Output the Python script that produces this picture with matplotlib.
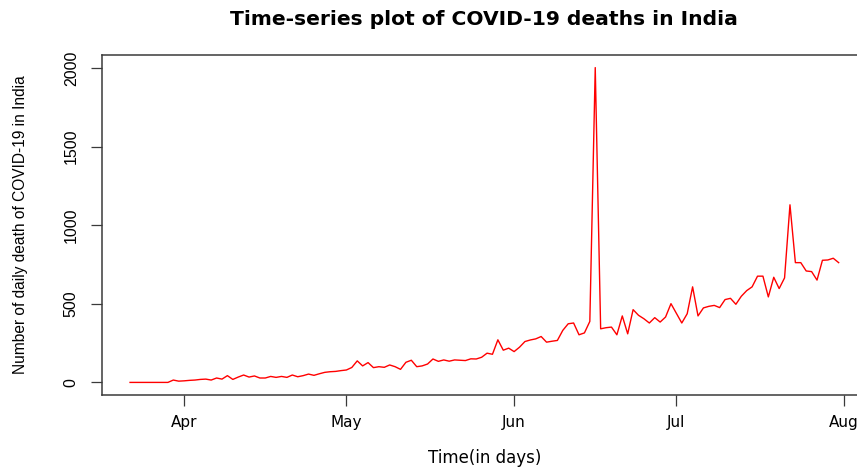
import pandas as pd
import matplotlib
matplotlib.use("Agg")
import matplotlib.pyplot as plt
import matplotlib.dates as mdates

# daily deaths, one value per day starting 22 Mar 2020
start_date = "2020-03-22"
deaths = [
    0, 0, 0, 0, 0, 0, 0, 0, 15, 8,                   # Mar 22 - Mar 31
    10, 13, 15, 19, 21, 15, 28, 21, 43, 19,          # Apr 1 - Apr 10
    34, 47, 34, 41, 28, 28, 38, 32, 38, 32,          # Apr 11 - Apr 20
    47, 36, 43, 53, 45, 55, 64, 68, 70, 75,          # Apr 21 - Apr 30
    79, 95, 137, 105, 126, 94, 100, 96, 111, 100,    # May 1 - May 10
    83, 128, 141, 100, 105, 117, 149, 134, 143, 135, # May 11 - May 20
    143, 141, 139, 150, 149, 160, 186, 179, 271, 205,    # May 21 - May 30
    218,                                                 # May 31
    196, 224, 260, 270, 277, 292, 256, 262, 267, 331,    # Jun 1 - Jun 10
    373, 378, 303, 315, 388, 2003, 341, 348, 352, 303,   # Jun 11 - Jun 20
    423, 309, 463, 427, 405, 378, 412, 384, 416, 501,    # Jun 21 - Jun 30
    440, 378, 437, 608, 423, 474, 484, 490, 476, 527,    # Jul 1 - Jul 10
    535, 497, 548, 584, 608, 676, 676, 544, 669, 597,    # Jul 11 - Jul 20
    665, 1130, 762, 762, 709, 705, 651, 777, 779, 790,   # Jul 21 - Jul 30
    762,                                                 # Jul 31
]
dates = pd.date_range(start_date, periods=len(deaths), freq="D")
y_ticks = [0, 500, 1000, 1500, 2000]

# narrower face for the rotated texts (the original looks squeezed vertically)
narrow = ["Liberation Sans", "DejaVu Sans"]

fig = plt.figure(figsize=(8.57, 4.68), dpi=100)
# plot region runs past the right edge, like the cropped original
ax = fig.add_axes([101.7 / 857, 73 / 468, 765.3 / 857, 340 / 468])

ax.plot(dates, deaths, color="#ff0000", linewidth=1.0)
ax.margins(x=0.04, y=0.04)

ax.xaxis.set_major_locator(mdates.MonthLocator())
ax.xaxis.set_major_formatter(mdates.DateFormatter("%b"))
ax.set_yticks(y_ticks)
ax.set_yticklabels([str(v) for v in y_ticks])

for side in ax.spines.values():
    side.set_color("#3a3a3a")
    side.set_linewidth(1.1)

ax.tick_params(axis="both", direction="out", length=8, width=0.9, color="#3a3a3a")
ax.tick_params(axis="x", pad=6.5, labelsize=11)
ax.tick_params(axis="y", pad=8.5, labelrotation=90)
for lab in ax.get_yticklabels():
    lab.set_va("center")
    lab.set_family(narrow)
    lab.set_fontsize(11.5)

ax.set_xlabel("Time(in days)", fontsize=12)
ax.xaxis.set_label_coords(0.5, -(463 - 395) / 340)
ax.xaxis.label.set_va("baseline")

ax.set_ylabel("Number of daily death of COVID-19 in India", fontsize=11.2, family=narrow)
ax.yaxis.set_label_coords((20 - 101.7) / 765.3, 0.5)
ax.yaxis.label.set_va("center")

ax.set_title("Time-series plot of COVID-19 deaths in India",
             fontsize=14.6, fontweight="bold", pad=0, y=(395 - 25) / 340)

fig.savefig("out.png", dpi=100)
